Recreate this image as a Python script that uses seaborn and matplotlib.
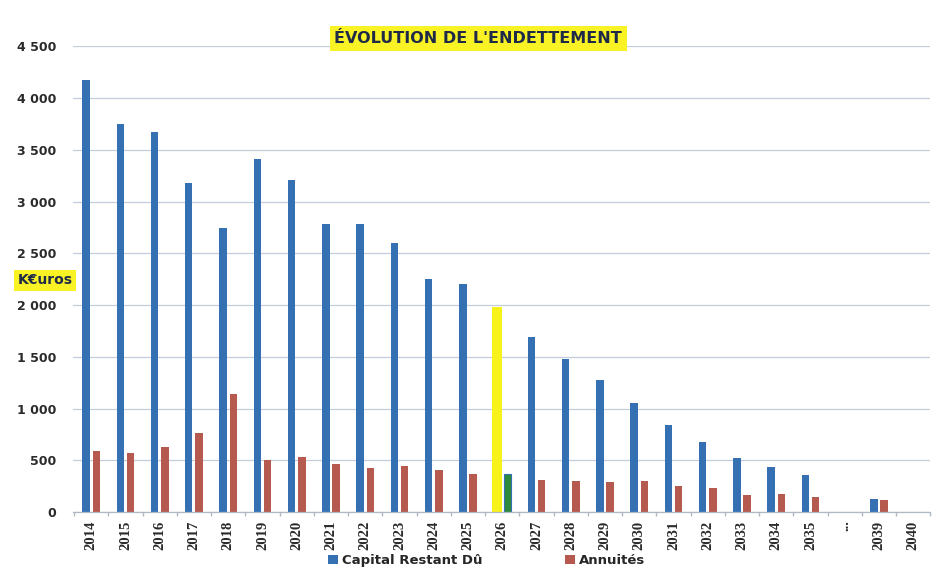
import matplotlib
matplotlib.use("Agg")
import matplotlib.pyplot as plt
import numpy as np
import pandas as pd
import seaborn as sns
from matplotlib.ticker import FuncFormatter, FixedLocator

# ---- data ----
years = ["2014", "2015", "2016", "2017", "2018", "2019", "2020", "2021", "2022",
         "2023", "2024", "2025", "2026", "2027", "2028", "2029", "2030", "2031",
         "2032", "2033", "2034", "2035", "...", "2039", "2040"]
capital = [4170, 3745, 3668, 3176, 2741, 3407, 3205, 2780, 2780,
           2597, 2249, 2200, 1979, 1690, 1477, 1274, 1052, 840,
           676, 521, 434, 357, np.nan, 125, 0]
annuites = [590, 570, 627, 762, 1139, 500, 530, 463, 425,
            444, 405, 367, 370, 309, 299, 290, 299, 251,
            232, 164, 174, 145, np.nan, 116, 0]
series_names = ["Capital Restant Dû", "Annuités"]
highlight_year = "2026"

df = pd.DataFrame({
    "Année": years * 2,
    "Série": [series_names[0]] * len(years) + [series_names[1]] * len(years),
    "Valeur": capital + annuites,
})

BLUE = "#3470b2"
RED = "#b65a4f"

sns.set_theme(style="white")
plt.rcParams["font.family"] = ["DejaVu Sans"]

fig = plt.figure(figsize=(9.36, 5.71), dpi=100)
ax = fig.add_axes([0.078, 0.103, 0.916, 0.816])

sns.barplot(data=df, x="Année", y="Valeur", hue="Série", order=years,
            hue_order=series_names, palette=[BLUE, RED], width=0.6, gap=0.28,
            saturation=1, legend=True, linewidth=0, ax=ax)

# highlight 2026
hi = years.index(highlight_year)
for p in ax.patches:
    if p.get_height() == 0 or np.isnan(p.get_height()):
        continue
    cx = p.get_x() + p.get_width() / 2
    if abs(cx - hi) < 0.5:
        if p.get_facecolor()[2] > 0.5:  # blue series
            w = p.get_width() * 1.25
            p.set_x(cx - w / 2)
            p.set_width(w)
            p.set_facecolor("#f7f21a")
        else:
            p.set_facecolor("#2e8a3c")
            p.set_edgecolor(BLUE)
            p.set_linewidth(0.8)

ax.set_xlim(-0.53, len(years) - 0.5)
ax.set_ylim(0, 4500)
ax.set_yticks(np.arange(0, 4501, 500))
ax.yaxis.set_major_formatter(FuncFormatter(lambda v, _: f"{int(v):,}".replace(",", " ")))
ax.grid(axis="y", color="#c3cddb", linewidth=0.9)
ax.set_axisbelow(True)
ax.set_xlabel("")
ax.set_ylabel("")

for s in ["top", "right", "left"]:
    ax.spines[s].set_visible(False)
ax.spines["bottom"].set_color("#b0b8c4")
ax.spines["bottom"].set_linewidth(0.9)

ax.tick_params(axis="y", length=4, color="#b0b8c4", labelsize=9, labelcolor="#2a2a2a", pad=8)
for t in ax.get_yticklabels():
    t.set_fontweight("bold")

ax.set_xticks(range(len(years)))
ax.set_xticklabels(years, rotation=90, fontfamily="Liberation Serif",
                   fontweight="bold", fontsize=10.5, color="#2a2a2a")
ax.tick_params(axis="x", which="major", length=0, pad=6)
ax.xaxis.set_minor_locator(FixedLocator(np.arange(-0.5, len(years), 1.0)))
ax.tick_params(axis="x", which="minor", length=3, color="#b0b8c4", bottom=True)

# legend at bottom
h, l = ax.get_legend_handles_labels()
ax.get_legend().remove()
fig.legend(h, l, loc="lower center", bbox_to_anchor=(0.52, -0.014), ncol=2,
           frameon=False, handlelength=0.75, handleheight=0.75, handletextpad=0.3,
           columnspacing=6.3, prop={"weight": "bold", "size": 9.5})

# title and unit label with yellow highlight
fig.text(0.511, 0.933, "ÉVOLUTION DE L'ENDETTEMENT", ha="center", va="center",
         fontsize=11.5, fontweight="bold", color="#1f2a48",
         bbox=dict(boxstyle="square,pad=0.3", facecolor="#f9f224", edgecolor="none"))
fig.text(0.048, 0.509, "K€uros", ha="center", va="center",
         fontsize=10, fontweight="bold", color="#1f2a48",
         bbox=dict(boxstyle="square,pad=0.25", facecolor="#f9f224", edgecolor="none"))

fig.savefig("out.png", dpi=100)
